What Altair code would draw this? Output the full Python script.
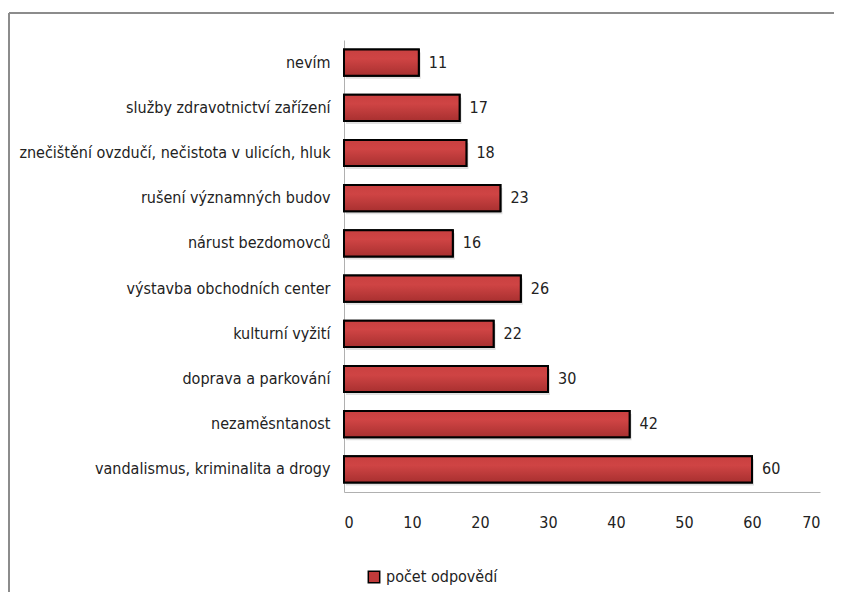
import altair as alt
import pandas as pd

categories = [
    "nevím",
    "služby zdravotnictví zařízení",
    "znečištění ovzdučí, nečistota v ulicích, hluk",
    "rušení významných budov",
    "nárust bezdomovců",
    "výstavba obchodních center",
    "kulturní vyžití",
    "doprava a parkování",
    "nezaměsntanost",
    "vandalismus, kriminalita a drogy",
]
values = [11, 17, 18, 23, 16, 26, 22, 30, 42, 60]
series_name = "počet odpovědí"
x_ticks = [0, 10, 20, 30, 40, 50, 60, 70]

df = pd.DataFrame({"kategorie": categories, "hodnota": values, "serie": [series_name] * len(values)})

FONT = "DejaVu Sans Condensed"
FS = 16
W, H = 476, 452
PAD = {"left": 336, "top": 32, "right": 14, "bottom": 100}

grad = alt.Gradient(
    gradient="linear",
    stops=[
        alt.GradientStop(color="#c94040", offset=0),
        alt.GradientStop(color="#cf4444", offset=0.35),
        alt.GradientStop(color="#a83030", offset=1),
    ],
    x1=0, x2=0, y1=0, y2=1,
)

y_enc = alt.Y(
    "kategorie:N",
    sort=categories,
    scale=alt.Scale(paddingInner=0.42, paddingOuter=0.21),
    axis=alt.Axis(
        title=None, ticks=False, domainColor="#b0b0b0", labelFont=FONT,
        labelFontSize=FS, labelColor="#222222", labelPadding=14, labelLimit=400,
    ),
)
x_enc = alt.X(
    "hodnota:Q",
    scale=alt.Scale(domain=[0, 70], nice=False),
    axis=alt.Axis(
        title=None, values=x_ticks, ticks=False, grid=False, domainColor="#b0b0b0",
        labelFont=FONT, labelFontSize=FS, labelColor="#222222", labelPadding=22,
    ),
)

frame_top = alt.Chart(df).mark_rule(stroke="#8c8c8c", strokeWidth=1.5).encode(
    x=alt.value(-335), x2=alt.value(W + PAD["right"]), y=alt.value(-27)
)
frame_left = alt.Chart(df).mark_rule(stroke="#8c8c8c", strokeWidth=1.5).encode(
    x=alt.value(-335), y=alt.value(-27), y2=alt.value(H + PAD["bottom"])
)

shadow = alt.Chart(df).mark_bar(color="#bbbbbb", opacity=0.45, xOffset=2, yOffset=3).encode(
    y=y_enc, x=x_enc
)

bars = alt.Chart(df).mark_bar(color=grad, stroke="#000000", strokeWidth=2).encode(
    y=y_enc,
    x=x_enc,
    fill=alt.Fill(
        "serie:N",
        scale=alt.Scale(range=["#c03a3a"]),
        legend=alt.Legend(
            title=None, orient="none", legendX=22, legendY=H + 77, symbolType="square",
            symbolStrokeColor="#000000", symbolStrokeWidth=1.5, symbolSize=130,
            labelFont=FONT, labelFontSize=FS, labelColor="#222222", labelOffset=4,
        ),
    ),
)

bars2 = alt.Chart(df).mark_bar(color=grad, stroke="#000000", strokeWidth=2).encode(y=y_enc, x=x_enc)

labels = alt.Chart(df).mark_text(align="left", baseline="middle", dx=10, font=FONT, fontSize=FS, color="#222222").encode(
    y=y_enc, x=x_enc, text="hodnota:Q"
)

chart = alt.layer(frame_top, frame_left, shadow, bars, bars2, labels).properties(
    width=W, height=H,
    autosize=alt.AutoSizeParams(type="none"),
    padding=PAD,
).configure_view(stroke=None)

chart.save("out.html", embed_options={"renderer": "svg", "actions": False})
